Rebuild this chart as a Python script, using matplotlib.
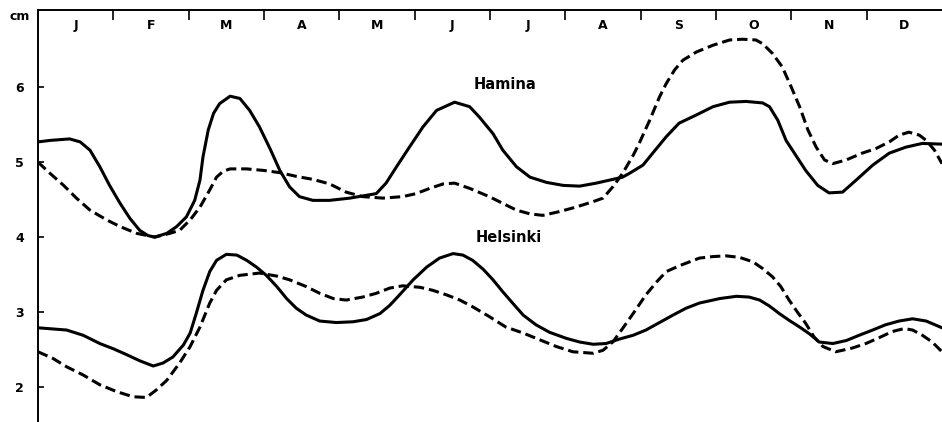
import matplotlib
matplotlib.use("Agg")
import matplotlib.pyplot as plt

# month letters along the top
months = ["J", "F", "M", "A", "M", "J", "J", "A", "S", "O", "N", "D"]
y_ticks = [2, 3, 4, 5, 6]

# Hamina (x in months from 1 Jan, y in cm)
hamina_solid_x = [0.00, 0.16, 0.42, 0.56, 0.69, 0.82, 0.95, 1.09, 1.22, 1.35, 1.46, 1.55, 1.71, 1.84,
                  1.97, 2.08, 2.15, 2.19, 2.26, 2.33, 2.41, 2.55, 2.68, 2.81, 2.94, 3.08, 3.21, 3.34,
                  3.47, 3.65, 3.87, 4.14, 4.49, 4.62, 4.76, 4.93, 5.11, 5.29, 5.53, 5.73, 5.86, 6.04,
                  6.17, 6.35, 6.53, 6.75, 6.97, 7.19, 7.41, 7.63, 7.76, 7.85, 8.03, 8.16, 8.34, 8.51,
                  8.74, 8.96, 9.18, 9.40, 9.62, 9.71, 9.82, 9.93, 10.06, 10.19, 10.35, 10.50, 10.68,
                  10.86, 11.08, 11.30, 11.52, 11.74, 12.00]
hamina_solid_y = [5.27, 5.29, 5.31, 5.27, 5.16, 4.94, 4.69, 4.45, 4.25, 4.09, 4.02, 4.00, 4.05, 4.14,
                  4.27, 4.49, 4.76, 5.07, 5.43, 5.65, 5.78, 5.88, 5.85, 5.69, 5.47, 5.18, 4.89, 4.67,
                  4.54, 4.49, 4.49, 4.52, 4.58, 4.72, 4.94, 5.20, 5.47, 5.69, 5.80, 5.74, 5.60, 5.38,
                  5.16, 4.94, 4.80, 4.73, 4.69, 4.68, 4.72, 4.77, 4.80, 4.85, 4.96, 5.12, 5.34, 5.52,
                  5.63, 5.74, 5.80, 5.81, 5.79, 5.74, 5.56, 5.29, 5.09, 4.89, 4.69, 4.59, 4.60,
                  4.76, 4.96, 5.12, 5.20, 5.25, 5.24]

hamina_dash_x = [0.00, 0.16, 0.34, 0.51, 0.69, 0.91, 1.09, 1.31, 1.55, 1.75, 1.88, 2.02, 2.15, 2.28,
                 2.37, 2.46, 2.55, 2.77, 2.99, 3.21, 3.43, 3.65, 3.87, 4.09, 4.31, 4.58, 4.84, 5.02,
                 5.20, 5.38, 5.53, 5.73, 5.99, 6.17, 6.35, 6.53, 6.70, 6.92, 7.14, 7.36, 7.50, 7.63,
                 7.76, 7.90, 7.98, 8.12, 8.25, 8.34, 8.45, 8.56, 8.74, 8.96, 9.18, 9.35, 9.53, 9.62,
                 9.75, 9.88, 10.00, 10.11, 10.22, 10.33, 10.44, 10.55, 10.73, 10.94, 11.12, 11.30,
                 11.43, 11.56, 11.70, 11.79, 11.90, 12.00]
hamina_dash_y = [5.00, 4.85, 4.69, 4.52, 4.36, 4.23, 4.14, 4.05, 4.00, 4.05, 4.09, 4.23, 4.40, 4.63,
                 4.80, 4.88, 4.91, 4.91, 4.89, 4.86, 4.81, 4.77, 4.71, 4.60, 4.54, 4.52, 4.54, 4.58,
                 4.65, 4.71, 4.72, 4.65, 4.54, 4.45, 4.36, 4.31, 4.29, 4.34, 4.40, 4.47, 4.52, 4.67,
                 4.85, 5.09, 5.25, 5.56, 5.87, 6.05, 6.23, 6.36, 6.47, 6.56, 6.63, 6.64, 6.63, 6.58,
                 6.45, 6.27, 6.00, 5.74, 5.43, 5.20, 5.03, 4.98, 5.03, 5.12, 5.18, 5.27,
                 5.36, 5.40, 5.36, 5.29, 5.16, 4.98]

# Helsinki
helsinki_solid_x = [0.00, 0.38, 0.60, 0.82, 1.00, 1.18, 1.35, 1.53, 1.66, 1.79, 1.93, 2.02, 2.10, 2.19,
                    2.28, 2.37, 2.50, 2.64, 2.77, 2.90, 3.03, 3.17, 3.30, 3.43, 3.56, 3.74, 3.96, 4.18,
                    4.36, 4.54, 4.67, 4.80, 4.98, 5.16, 5.33, 5.51, 5.64, 5.77, 5.91, 6.04, 6.17, 6.30,
                    6.44, 6.61, 6.79, 7.01, 7.19, 7.37, 7.54, 7.72, 7.90, 8.07, 8.25, 8.43, 8.60, 8.78,
                    8.87, 9.05, 9.27, 9.44, 9.58, 9.71, 9.84, 9.97, 10.11, 10.24, 10.37, 10.55, 10.73,
                    10.90, 11.08, 11.25, 11.43, 11.61, 11.79, 12.00]
helsinki_solid_y = [2.79, 2.76, 2.69, 2.58, 2.51, 2.43, 2.35, 2.28, 2.32, 2.40, 2.56, 2.72, 2.98, 3.29,
                    3.54, 3.69, 3.77, 3.76, 3.69, 3.60, 3.49, 3.34, 3.18, 3.05, 2.96, 2.88, 2.86, 2.87,
                    2.90, 2.98, 3.09, 3.23, 3.43, 3.60, 3.72, 3.78, 3.76, 3.69, 3.57, 3.43, 3.27, 3.12,
                    2.96, 2.83, 2.73, 2.65, 2.60, 2.57, 2.58, 2.64, 2.69, 2.76, 2.86, 2.96, 3.05, 3.12,
                    3.14, 3.18, 3.21, 3.20, 3.16, 3.08, 2.98, 2.89, 2.80, 2.71, 2.60, 2.58, 2.62,
                    2.69, 2.76, 2.83, 2.88, 2.91, 2.88, 2.79]

helsinki_dash_x = [0.00, 0.20, 0.38, 0.60, 0.82, 1.04, 1.26, 1.44, 1.57, 1.71, 1.88, 2.02, 2.15, 2.28,
                   2.37, 2.50, 2.68, 2.94, 3.17, 3.34, 3.56, 3.74, 3.92, 4.09, 4.31, 4.49, 4.67, 4.84,
                   5.07, 5.24, 5.42, 5.60, 5.77, 5.99, 6.21, 6.44, 6.66, 6.88, 7.10, 7.37, 7.50, 7.63,
                   7.76, 7.90, 8.07, 8.21, 8.34, 8.52, 8.65, 8.78, 8.96, 9.13, 9.31, 9.49, 9.62, 9.75,
                   9.86, 9.97, 10.08, 10.19, 10.30, 10.42, 10.59, 10.81, 10.99, 11.17, 11.34, 11.50,
                   11.61, 11.74, 11.87, 12.00]
helsinki_dash_y = [2.47, 2.38, 2.27, 2.16, 2.03, 1.94, 1.87, 1.86, 1.96, 2.09, 2.32, 2.54, 2.80, 3.12,
                   3.29, 3.43, 3.49, 3.52, 3.48, 3.43, 3.34, 3.25, 3.18, 3.16, 3.20, 3.25, 3.32, 3.35,
                   3.33, 3.29, 3.23, 3.16, 3.07, 2.94, 2.80, 2.72, 2.63, 2.54, 2.47, 2.45, 2.49, 2.60,
                   2.78, 2.98, 3.23, 3.40, 3.54, 3.62, 3.67, 3.72, 3.74, 3.75, 3.73, 3.67, 3.58, 3.47,
                   3.34, 3.16, 3.00, 2.85, 2.67, 2.54, 2.47, 2.52, 2.58, 2.66, 2.74, 2.78,
                   2.76, 2.69, 2.60, 2.47]

plt.rcParams['font.family'] = ['Liberation Sans Narrow', 'DejaVu Sans']

fig = plt.figure(figsize=(9.42, 4.22), dpi=100)
ax = fig.add_axes([38 / 942, 0.0, 1 - 38 / 942, 1 - 10 / 422])

lw = 2.2
dash = (0, (3.4, 1.6))
ax.plot(hamina_solid_x, hamina_solid_y, color="black", lw=lw, solid_joinstyle="round")
ax.plot(hamina_dash_x, hamina_dash_y, color="black", lw=lw, linestyle=dash, dash_capstyle="butt")
ax.plot(helsinki_solid_x, helsinki_solid_y, color="black", lw=lw, solid_joinstyle="round")
ax.plot(helsinki_dash_x, helsinki_dash_y, color="black", lw=lw, linestyle=dash, dash_capstyle="butt")

ax.set_xlim(0, 12)
ax.set_ylim(1.533, 7.03)

for s in ["right", "bottom"]:
    ax.spines[s].set_visible(False)
ax.spines["left"].set_linewidth(1.4)
ax.spines["top"].set_linewidth(1.4)

# month boundaries as ticks hanging from the top line
ax.xaxis.set_ticks_position("top")
ax.set_xticks(range(1, 12))
ax.set_xticklabels([])
ax.tick_params(axis="x", direction="in", length=7, width=1.2)
for i, m in enumerate(months):
    ax.text(i + 0.5, 0.963, m, transform=ax.get_xaxis_transform(), ha="center", va="center",
            fontsize=9, fontweight="bold")

ax.set_yticks(y_ticks)
ax.set_yticklabels([str(v) for v in y_ticks], fontsize=9, fontweight="bold")
ax.tick_params(axis="y", direction="in", length=4, width=1.2, pad=10)
fig.text(20 / 942, 1 - 16 / 422, "cm", ha="center", va="center", fontsize=9, fontweight="bold")

ax.text(6.2, 6.03, "Hamina", ha="center", va="center", fontsize=10.5, fontweight="bold")
ax.text(6.25, 4.0, "Helsinki", ha="center", va="center", fontsize=10.5, fontweight="bold")

fig.savefig("out.png", dpi=100)
